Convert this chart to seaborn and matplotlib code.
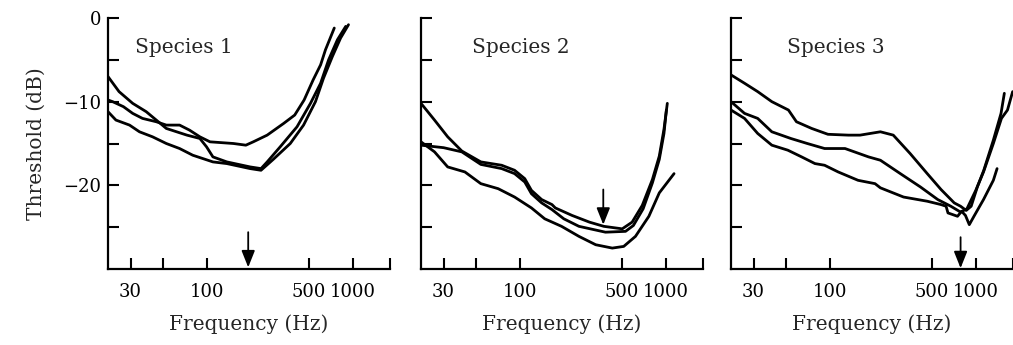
import numpy as np
import pandas as pd
import seaborn as sns
import matplotlib.pyplot as plt

# threshold curves (Hz, dB)
sp1_a_f = [21, 22.6, 26.8, 31, 36.2, 45, 52.7, 65, 76, 89.5, 105, 152, 185, 208, 259, 336, 400, 464, 535, 602, 650, 747]
sp1_a_db = [-9.8, -10.0, -10.6, -11.4, -12.0, -12.4, -12.8, -12.8, -13.4, -14.2, -14.8, -15.0, -15.2, -14.8, -14.0, -12.6, -11.6, -9.8, -7.4, -5.6, -3.8, -1.2]
sp1_b_f = [21, 25, 31, 38.4, 45, 52.7, 73, 89.5, 99.5, 110, 137, 198, 235, 259, 318, 415, 513, 602, 683, 785, 895]
sp1_b_db = [-7.0, -8.8, -10.2, -11.2, -12.2, -13.2, -14.0, -14.4, -15.4, -16.6, -17.2, -17.8, -18.0, -17.2, -15.4, -13.0, -10.2, -7.8, -5.0, -2.6, -1.0]
sp1_c_f = [21, 23.8, 29.5, 34.5, 42.4, 52.7, 65, 80, 110, 137, 198, 235, 285, 373, 460, 555, 630, 725, 825, 935]
sp1_c_db = [-11.2, -12.2, -12.8, -13.6, -14.2, -15.0, -15.6, -16.4, -17.2, -17.4, -18.0, -18.2, -16.9, -15.0, -12.8, -10.0, -7.2, -4.6, -2.4, -0.8]

sp2_a_f = [21, 26, 32, 40, 54, 75, 92, 108, 120, 141, 166, 175, 228, 300, 376, 503, 588, 690, 810, 903, 972, 1025]
sp2_a_db = [-10.2, -12.2, -14.2, -15.9, -17.2, -17.6, -18.2, -19.2, -20.6, -21.7, -22.3, -22.7, -23.6, -24.4, -24.9, -25.2, -24.4, -22.4, -19.3, -16.5, -13.3, -10.2]
sp2_b_f = [21, 30, 40, 54, 75, 92, 108, 120, 141, 166, 200, 254, 386, 530, 600, 700, 810, 903, 972, 1010]
sp2_b_db = [-15.2, -15.5, -16.0, -17.5, -18.0, -18.6, -19.6, -21.0, -22.1, -22.9, -24.0, -24.9, -25.6, -25.5, -24.8, -22.8, -19.7, -16.9, -13.8, -11.0]
sp2_c_f = [21, 26, 32, 42, 54, 71, 92, 120, 148, 193, 254, 331, 430, 515, 620, 766, 903, 1140]
sp2_c_db = [-14.8, -16.0, -17.8, -18.4, -19.8, -20.4, -21.4, -22.7, -24.0, -24.9, -26.1, -27.1, -27.5, -27.3, -26.1, -23.7, -20.9, -18.6]

sp3_a_f = [21, 26, 32, 40, 52, 59, 75, 97, 134, 161, 222, 272, 355, 465, 578, 712, 787, 860, 930, 1025, 1135, 1320, 1490, 1570]
sp3_a_db = [-6.8, -7.8, -8.8, -10.0, -11.0, -12.4, -13.2, -13.9, -14.0, -14.0, -13.6, -14.0, -16.2, -18.6, -20.5, -22.1, -22.5, -23.0, -22.5, -20.2, -18.2, -14.6, -11.4, -9.0]
sp3_b_f = [21, 26, 32, 40, 54, 70, 92, 127, 184, 222, 304, 418, 549, 675, 787, 870, 1000, 1130, 1320, 1500, 1650, 1790]
sp3_b_db = [-10.0, -11.4, -12.0, -13.6, -14.4, -15.0, -15.6, -15.6, -16.6, -17.0, -18.6, -20.2, -21.7, -22.5, -23.2, -22.8, -20.6, -18.4, -15.0, -12.0, -11.0, -8.8]
sp3_c_f = [21, 26, 32, 40, 51.5, 64, 79, 92, 114, 156, 204, 222, 320, 465, 578, 626, 645, 750, 800, 850, 903, 972, 1130, 1320, 1400]
sp3_c_db = [-11.0, -12.0, -13.8, -15.2, -15.8, -16.6, -17.4, -17.6, -18.4, -19.4, -19.8, -20.3, -21.4, -21.9, -22.3, -22.5, -23.3, -23.7, -23.1, -23.6, -24.7, -23.7, -21.7, -19.4, -18.0]

species_names = ['Species 1', 'Species 2', 'Species 3']
curves = [
    [(sp1_a_f, sp1_a_db), (sp1_b_f, sp1_b_db), (sp1_c_f, sp1_c_db)],
    [(sp2_a_f, sp2_a_db), (sp2_b_f, sp2_b_db), (sp2_c_f, sp2_c_db)],
    [(sp3_a_f, sp3_a_db), (sp3_b_f, sp3_b_db), (sp3_c_f, sp3_c_db)],
]
# best frequency arrows
arrow_freq = [192, 373, 787]
arrow_tail = [-25.6, -20.5, -26.2]
arrow_tip = [-29.8, -24.7, -29.9]

x_ticks = [30, 50, 100, 500, 1000, 1800]
x_labels = ['30', '', '100', '500', '1000', '']
y_ticks = [-25, -20, -15, -10, -5, 0]
y_labels = ['', '\u221220', '', '\u221210', '', '0']

sns.set_style('ticks')
plt.rcParams['font.family'] = ['DejaVu Serif']
plt.rcParams['font.size'] = 14.5

fig = plt.figure(figsize=(10.13, 3.45), dpi=100)
lefts = [108, 421, 731]
label_x = [0.096, 0.18, 0.20]

for i in range(3):
    ax = fig.add_axes([lefts[i] / 1013, 1 - 269 / 345, 282 / 1013, 251 / 345])
    for f, db in curves[i]:
        sns.lineplot(x=f, y=db, ax=ax, color='black', lw=2.0, estimator=None, sort=False)
    ax.set_xscale('log')
    ax.set_xlim(21, 1800)
    ax.set_ylim(-30, 0)
    ax.set_xticks(x_ticks)
    ax.set_xticklabels(x_labels)
    ax.minorticks_off()
    ax.set_yticks(y_ticks)
    if i == 0:
        ax.set_yticklabels(y_labels)
        ax.set_ylabel('Threshold (dB)', labelpad=12)
    else:
        ax.set_yticklabels([])
    ax.set_xlabel('Frequency (Hz)', labelpad=10)
    ax.tick_params(axis='both', direction='in', length=8, width=1.5, colors='black', labelsize=13)
    ax.tick_params(axis='x', pad=10)
    ax.tick_params(axis='y', pad=5)
    for s in ['left', 'bottom']:
        ax.spines[s].set_linewidth(1.6)
        ax.spines[s].set_color('black')
    sns.despine(ax=ax)
    ax.text(label_x[i], 0.884, species_names[i], transform=ax.transAxes, ha='left', va='center')
    ax.annotate('', xy=(arrow_freq[i], arrow_tip[i]), xytext=(arrow_freq[i], arrow_tail[i]),
                arrowprops=dict(arrowstyle='-|>,head_width=0.28,head_length=0.7', color='black', lw=1.3,
                                shrinkA=0, shrinkB=0))

fig.savefig('out.png', dpi=100)
